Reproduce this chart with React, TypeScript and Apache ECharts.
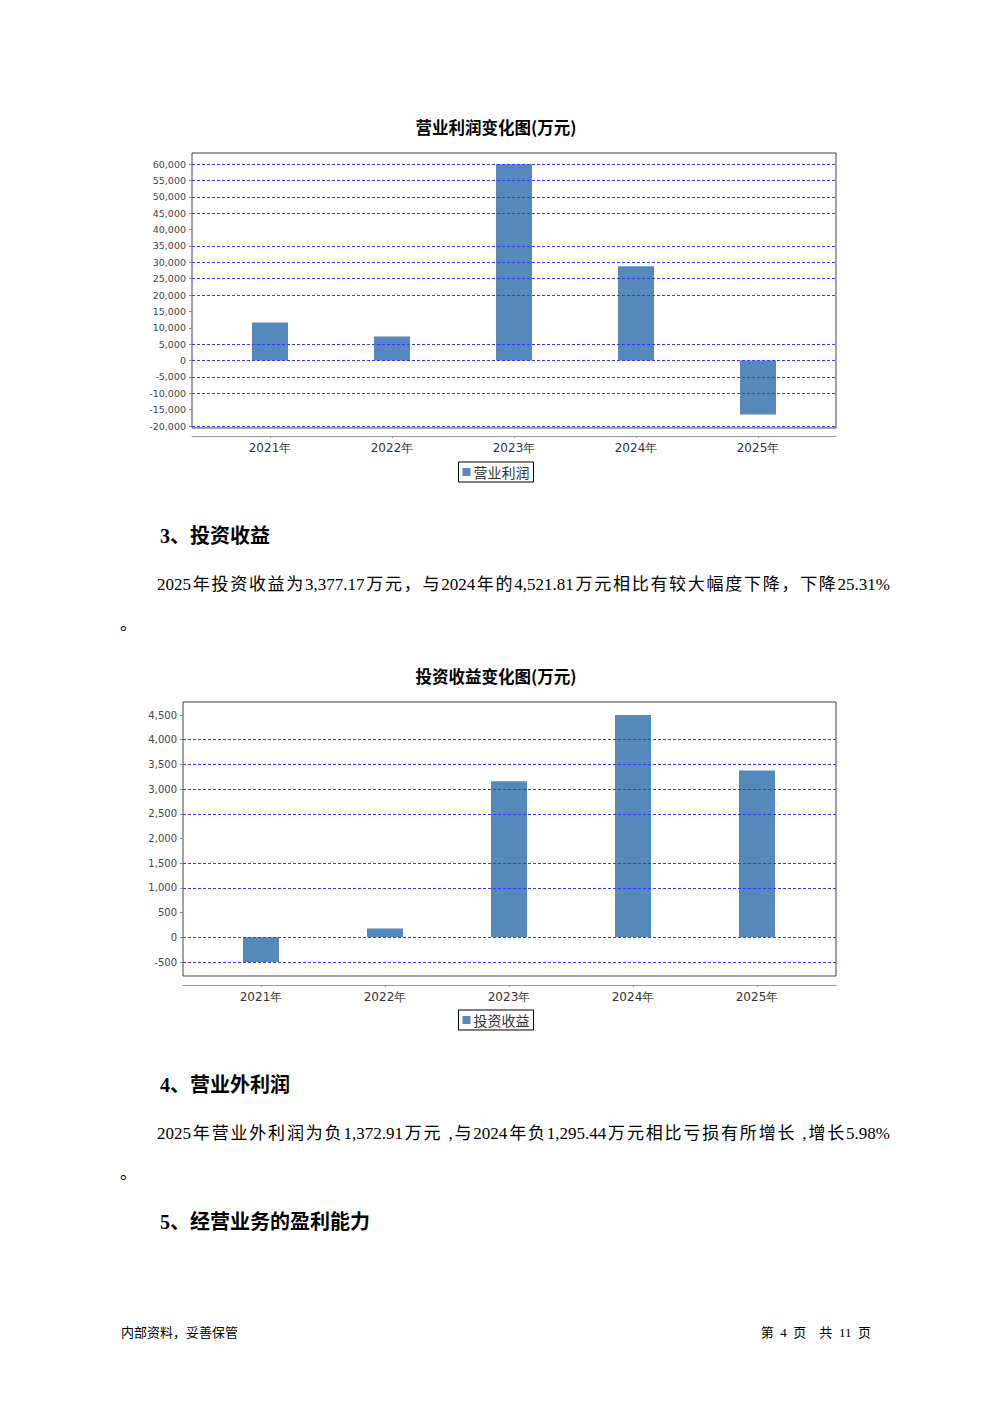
import React, { useEffect, useRef } from "react";
import * as echarts from "echarts";

const years = ["2021年", "2022年", "2023年", "2024年", "2025年"];
const opProfit = [11600, 7300, 59900, 28800, -16500];
const invIncome = [-510, 180, 3160, 4521.81, 3377.17];
// horizontal grid lines that are actually drawn in the reference
const chart1Lines = [-20000, -10000, -5000, 0, 5000, 20000, 25000, 30000, 35000, 45000, 50000, 55000, 60000];
const chart2Lines = [-500, 0, 1000, 1500, 2500, 3000, 3500, 4000];

const BAR = "#5588bb";
const GRIDC = "#3838ff";
const fmt = (v: number) => v.toLocaleString("en-US");

function gridLineSeries(xi: number, yi: number, values: number[]) {
  return {
    type: "scatter",
    xAxisIndex: xi,
    yAxisIndex: yi,
    data: [[0, 0]],
    symbolSize: 0,
    silent: true,
    z: 1,
    markLine: {
      silent: true,
      symbol: ["none", "none"],
      label: { show: false },
      lineStyle: { color: GRIDC, type: [3, 2], width: 1 },
      data: values.map((v) => ({ yAxis: v })),
    },
  };
}

function makeOption() {
  const axisFont = "DejaVu Sans";
  const titleStyle = { fontSize: 16.5, fontWeight: "bold", color: "#000", fontFamily: "Noto Sans CJK SC" };
  const legendBase = {
    left: "center",
    orient: "horizontal",
    borderColor: "#000",
    borderWidth: 1,
    padding: [3, 4, 3, 4],
    itemWidth: 8,
    itemHeight: 8,
    itemGap: 4,
    icon: "rect",
    textStyle: { fontSize: 14, color: "#333", fontFamily: "Noto Sans CJK SC", padding: [0, 0, 0, -2] },
  };
  return {
    animation: false,
    title: [
      { text: "营业利润变化图(万元)", left: "center", top: 114, textStyle: titleStyle },
      { text: "投资收益变化图(万元)", left: "center", top: 663, textStyle: titleStyle },
    ],
    legend: [
      { ...legendBase, data: ["营业利润"], top: 462 },
      { ...legendBase, data: ["投资收益"], top: 1010 },
    ],
    grid: [
      { left: 192, top: 153, width: 644, height: 275, show: true, borderColor: "#444", borderWidth: 1, backgroundColor: "rgba(0,0,0,0)" },
      { left: 192, top: 164, width: 644, height: 262 },
      { left: 209, top: 164, width: 610, height: 262 },
      { left: 183, top: 702, width: 653, height: 274, show: true, borderColor: "#444", borderWidth: 1, backgroundColor: "rgba(0,0,0,0)" },
      { left: 183, top: 715, width: 653, height: 247 },
      { left: 199, top: 715, width: 620, height: 247 },
    ],
    xAxis: [
      { gridIndex: 0, type: "value", show: false },
      {
        gridIndex: 1, type: "value", min: 0, max: 1, position: "bottom", offset: 10,
        axisLine: { show: true, onZero: false, lineStyle: { color: "#999", width: 1 } },
        axisTick: { show: false }, axisLabel: { show: false }, splitLine: { show: false },
      },
      {
        gridIndex: 2, type: "category", data: years, position: "bottom", offset: 10,
        axisLine: { show: false, onZero: false },
        axisTick: { show: true, alignWithLabel: true, length: 2, lineStyle: { color: "#999" } },
        axisLabel: { fontSize: 12, color: "#333", margin: 6, fontFamily: axisFont },
      },
      { gridIndex: 3, type: "value", show: false },
      {
        gridIndex: 4, type: "value", min: 0, max: 1, position: "bottom", offset: 23,
        axisLine: { show: true, onZero: false, lineStyle: { color: "#999", width: 1 } },
        axisTick: { show: false }, axisLabel: { show: false }, splitLine: { show: false },
      },
      {
        gridIndex: 5, type: "category", data: years, position: "bottom", offset: 23,
        axisLine: { show: false, onZero: false },
        axisTick: { show: true, alignWithLabel: true, length: 2, lineStyle: { color: "#999" } },
        axisLabel: { fontSize: 12, color: "#333", margin: 6, fontFamily: axisFont },
      },
    ],
    yAxis: [
      { gridIndex: 0, type: "value", show: false },
      {
        gridIndex: 1, type: "value", min: -20000, max: 60000, interval: 5000,
        axisLine: { show: false },
        axisTick: { show: true, length: 3, lineStyle: { color: "#888" } },
        axisLabel: { fontSize: 9.5, color: "#444", margin: 6, formatter: fmt, fontFamily: axisFont },
        splitLine: { show: false },
      },
      { gridIndex: 2, type: "value", min: -20000, max: 60000, show: false, splitLine: { show: false } },
      { gridIndex: 3, type: "value", show: false },
      {
        gridIndex: 4, type: "value", min: -500, max: 4500, interval: 500,
        axisLine: { show: false },
        axisTick: { show: true, length: 3, lineStyle: { color: "#888" } },
        axisLabel: { fontSize: 10, color: "#444", margin: 6, formatter: fmt, fontFamily: axisFont },
        splitLine: { show: false },
      },
      { gridIndex: 5, type: "value", min: -500, max: 4500, show: false, splitLine: { show: false } },
    ],
    series: [
      gridLineSeries(1, 1, chart1Lines),
      gridLineSeries(4, 4, chart2Lines),
      { name: "营业利润", type: "bar", xAxisIndex: 2, yAxisIndex: 2, data: opProfit, barWidth: 36, z: 3, itemStyle: { color: BAR } },
      { name: "投资收益", type: "bar", xAxisIndex: 5, yAxisIndex: 5, data: invIncome, barWidth: 36, z: 3, itemStyle: { color: BAR } },
    ],
  };
}

const FONT = "'Liberation Serif', 'Noto Sans CJK SC', serif";
const heading: React.CSSProperties = {
  position: "absolute",
  fontFamily: FONT,
  fontWeight: "bold",
  fontSize: 20,
  lineHeight: "24px",
  color: "#000",
  whiteSpace: "nowrap",
};
const para: React.CSSProperties = {
  position: "absolute",
  fontFamily: FONT,
  fontSize: 17,
  lineHeight: "22px",
  color: "#000",
  width: 733,
  textAlign: "justify",
  textAlignLast: "justify" as any,
};
const small: React.CSSProperties = {
  position: "absolute",
  fontFamily: FONT,
  fontSize: 13,
  lineHeight: "16px",
  color: "#000",
  whiteSpace: "pre",
};

export default function App() {
  const ref = useRef<HTMLDivElement>(null);
  useEffect(() => {
    if (!ref.current) return;
    const chart = echarts.init(ref.current, undefined, { renderer: "svg" });
    chart.setOption(makeOption() as any);
    return () => chart.dispose();
  }, []);
  return (
    <div style={{ position: "absolute", left: 0, top: 0, width: 992, height: 1403, background: "#fff", overflow: "hidden" }}>
      <div ref={ref} style={{ position: "absolute", left: 0, top: 0, width: 992, height: 1403 }} />
      <div style={{ ...heading, left: 160, top: 524 }}>3、投资收益</div>
      <div style={{ ...para, left: 157, top: 574 }}>2025年投资收益为3,377.17万元，与2024年的4,521.81万元相比有较大幅度下降，下降25.31%</div>
      <div style={{ ...para, left: 120, top: 614, width: 30, textAlignLast: "left" as any }}>。</div>
      <div style={{ ...heading, left: 160, top: 1073 }}>4、营业外利润</div>
      <div style={{ ...para, left: 157, top: 1123 }}>2025年营业外利润为负1,372.91万元 ,与2024年负1,295.44万元相比亏损有所增长 ,增长5.98%</div>
      <div style={{ ...para, left: 120, top: 1163, width: 30, textAlignLast: "left" as any }}>。</div>
      <div style={{ ...heading, left: 160, top: 1210 }}>5、经营业务的盈利能力</div>
      <div style={{ ...small, left: 121, top: 1325 }}>内部资料，妥善保管</div>
      <div style={{ ...small, left: 671, top: 1325, width: 200, textAlign: "right", wordSpacing: 3.3 }}>第 4 页  共 11 页</div>
    </div>
  );
}
